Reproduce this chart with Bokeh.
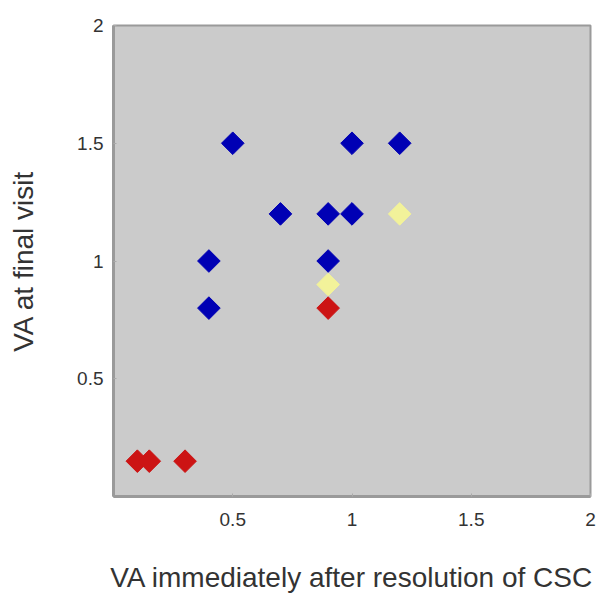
import numpy as np
from bokeh.plotting import figure
from bokeh.models import FixedTicker, Range1d
from bokeh.embed import file_html
from bokeh.resources import INLINE

# data
blue_x = [0.5, 1.0, 1.2, 0.7, 0.9, 1.0, 0.4, 0.9, 0.4]
blue_y = [1.5, 1.5, 1.5, 1.2, 1.2, 1.2, 1.0, 1.0, 0.8]
yellow_x = [1.2, 0.9]
yellow_y = [1.2, 0.9]
red_x = [0.1, 0.15, 0.3, 0.9]
red_y = [0.15, 0.15, 0.15, 0.8]
tick_vals = [0.5, 1, 1.5, 2]

p = figure(width=598, height=596, output_backend="svg", toolbar_location=None,
           x_range=Range1d(0, 2), y_range=Range1d(0, 2),
           min_border_left=113, min_border_right=8, min_border_top=25, min_border_bottom=100)
p.background_fill_color = "#cbcbcb"
p.border_fill_color = "white"
p.outline_line_color = "#9a9a9a"
p.outline_line_width = 2
p.grid.visible = False

font = "Liberation Sans"
for ax in (p.xaxis[0], p.yaxis[0]):
    ax.ticker = FixedTicker(ticks=tick_vals)
    ax.axis_line_color = "#9a9a9a"
    ax.axis_line_width = 3
    ax.major_tick_out = 0
    ax.major_tick_in = 3
    ax.major_tick_line_color = "#aaaaaa"
    ax.minor_tick_line_color = None
    ax.major_label_text_font = font
    ax.major_label_text_font_size = "19px"
    ax.major_label_text_color = "#333333"
    ax.axis_label_text_font = font
    ax.axis_label_text_font_size = "28px"
    ax.axis_label_text_font_style = "normal"
    ax.axis_label_text_color = "#333333"

p.xaxis[0].axis_label = "VA immediately after resolution of CSC"
p.yaxis[0].axis_label = "VA at final visit"
p.xaxis[0].major_label_standoff = 16
p.xaxis[0].axis_label_standoff = 33
p.yaxis[0].major_label_standoff = 10
p.yaxis[0].axis_label_standoff = 35

ang = np.pi / 4
p.scatter(blue_x, blue_y, marker="square", size=16, angle=ang,
          fill_color="#0000b4", line_color="#0000b4")
p.scatter(yellow_x, yellow_y, marker="square", size=16, angle=ang,
          fill_color="#f2f29a", line_color="#f2f29a")
p.scatter(red_x, red_y, marker="square", size=16, angle=ang,
          fill_color="#cc1414", line_color="#cc1414")

open("out.html", "w").write(file_html(p, INLINE))
